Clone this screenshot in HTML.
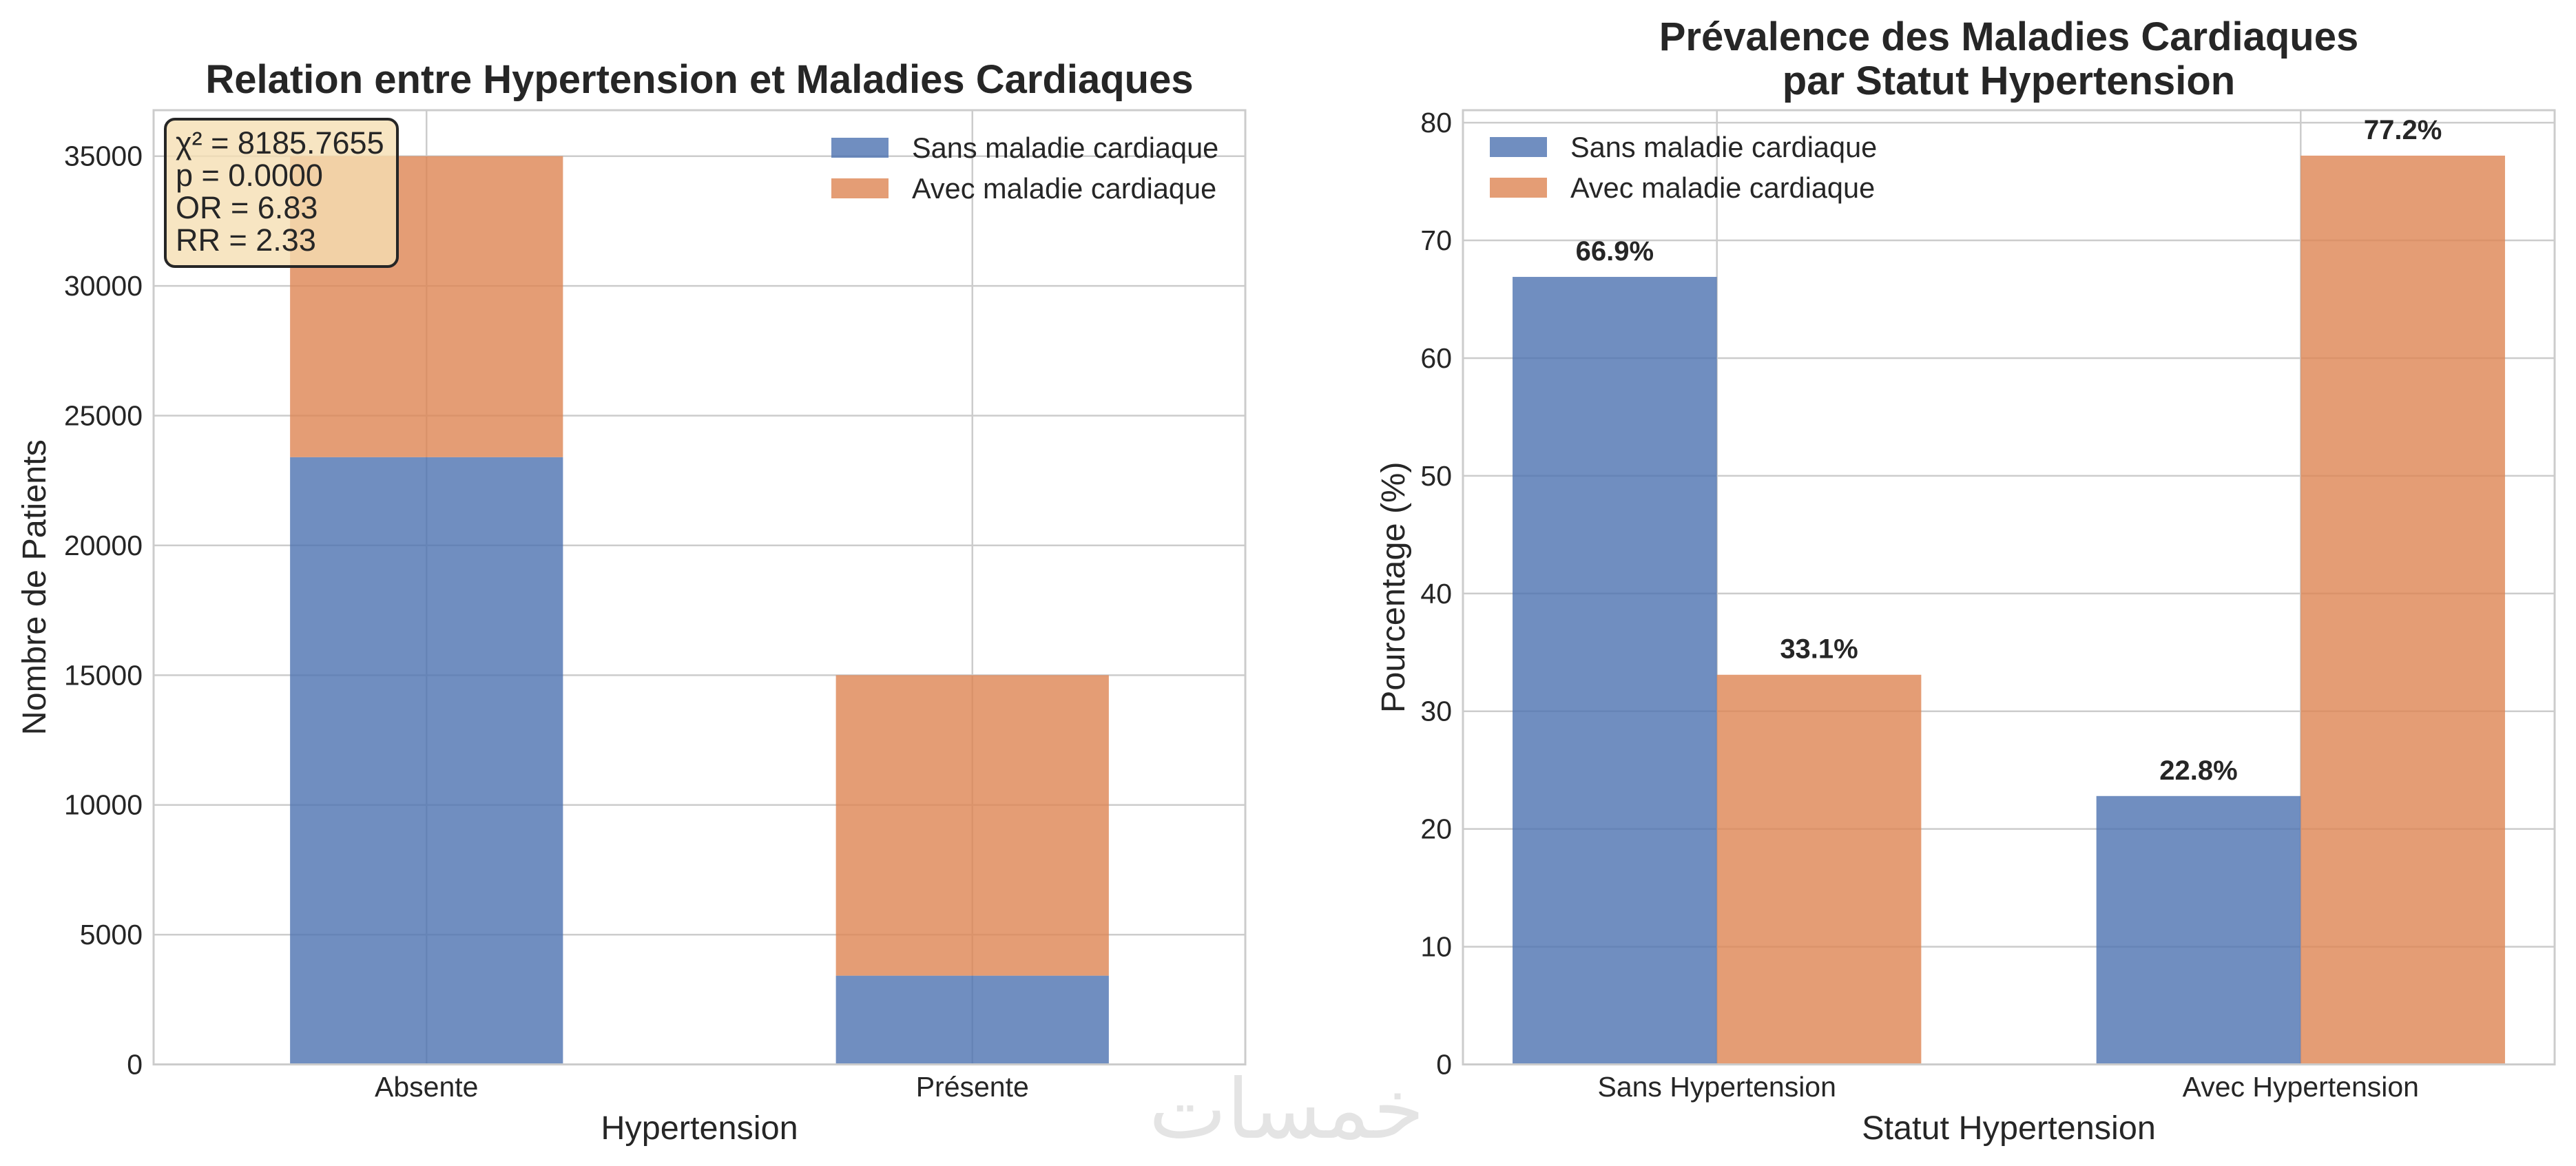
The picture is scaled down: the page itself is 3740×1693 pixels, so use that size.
<!DOCTYPE html>
<html><head><meta charset="utf-8"><style>
html,body{margin:0;padding:0;background:#fff;}
svg{display:block;font-family:"Liberation Sans",Arial,sans-serif;}
</style></head><body>
<svg id="fig" width="3740" height="1693" viewBox="0 0 3740 1693" xmlns="http://www.w3.org/2000/svg">
<rect x="0" y="0" width="3740" height="1693" fill="#fff"/>
<g id="left"></g>
<g id="right"></g>
<text x="1868" y="1652" text-anchor="middle" font-family="'DejaVu Sans',sans-serif" font-size="120" fill="#e4e4e4">خمسات</text>
</svg>
<script>
// ---- left chart data ----
const leftCategories = ["Absente", "Présente"];
const leftSans = [23400, 3420];
const leftAvec = [11600, 11580];
const leftTicks = [0, 5000, 10000, 15000, 20000, 25000, 30000, 35000];
// ---- right chart data ----
const rightCategories = ["Sans Hypertension", "Avec Hypertension"];
const rightSans = [66.9, 22.8];
const rightAvec = [33.1, 77.2];
const rightTicks = [0, 10, 20, 30, 40, 50, 60, 70, 80];
const seriesNames = ["Sans maladie cardiaque", "Avec maladie cardiaque"];

const NS = "http://www.w3.org/2000/svg";
const BLUE = "#4c72b0", ORANGE = "#dd8452", GRID = "#cccccc", TXT = "#262626";
function el(parent, tag, attrs, text) {
  const e = document.createElementNS(NS, tag);
  for (const k in attrs) e.setAttribute(k, attrs[k]);
  if (text !== undefined) e.textContent = text;
  parent.appendChild(e);
  return e;
}

function drawAxesFrame(g, L, R, T, B, xTicksPx, yTicks, yFn) {
  yTicks.forEach(t => {
    const y = yFn(t);
    const gl = el(g, "line", {x1: L, x2: R, y1: y, y2: y, stroke: GRID, "stroke-width": 2.5});
    
    
    const tl = el(g, "text", {x: L - 16, y: y + 14, "text-anchor": "end", "font-size": 41, fill: TXT}, String(t));
    
    
  });
  xTicksPx.forEach(x => {
    const gl = el(g, "line", {x1: x, x2: x, y1: T, y2: B, stroke: GRID, "stroke-width": 2.5});
    
    
  });
}
function drawSpines(g, L, R, T, B) {
  const r = el(g, "rect", {x: L, y: T, width: R - L, height: B - T, fill: "none", stroke: GRID, "stroke-width": 3});
  
  
}
function drawLegend(g, px, tx, y0) {
  [BLUE, ORANGE].forEach((c, i) => {
    const y = y0 + i * 59;
    const p = el(g, "rect", {x: px, y: y, width: 83, height: 29, fill: c, "fill-opacity": 0.8});
    
    
    const t = el(g, "text", {x: tx, y: y + 29, "font-size": 41.5, fill: TXT}, seriesNames[i]);
    
    
  });
}

// ---- LEFT ----
(function(){
  const g = document.getElementById("left");
  const L = 223, R = 1808, T = 160, B = 1545.5;
  const yMax = 36771, xMin = -0.5, xMax = 1.5;
  const y = v => B - v / yMax * (B - T);
  const x = v => L + (v - xMin) / (xMax - xMin) * (R - L);
  const bw = 0.5;
  drawAxesFrame(g, L, R, T, B, leftCategories.map((c, i) => x(i)), leftTicks, y);
  leftCategories.forEach((c, i) => {
    const x0 = x(i - bw / 2), w = x(i + bw / 2) - x0;
    const b1 = el(g, "rect", {x: x0, y: y(leftSans[i]), width: w, height: B - y(leftSans[i]), fill: BLUE, "fill-opacity": 0.8});
    
    
    const top = leftSans[i] + leftAvec[i];
    const b2 = el(g, "rect", {x: x0, y: y(top), width: w, height: y(leftSans[i]) - y(top), fill: ORANGE, "fill-opacity": 0.8});
    
    
    const tl = el(g, "text", {x: x(i), y: 1592, "text-anchor": "middle", "font-size": 41, fill: TXT}, c);
    
    
  });
  drawSpines(g, L, R, T, B);
  const t = el(g, "text", {x: (L + R) / 2, y: 135, "text-anchor": "middle", "font-size": 58, "font-weight": "bold", fill: TXT}, "Relation entre Hypertension et Maladies Cardiaques");
  
  
  const xl = el(g, "text", {x: (L + R) / 2, y: 1654, "text-anchor": "middle", "font-size": 48.6, fill: TXT}, "Hypertension");
  
  
  const yl = el(g, "text", {x: 0, y: 0, transform: "translate(66," + (T + B) / 2 + ") rotate(-90)", "text-anchor": "middle", "font-size": 48.6, fill: TXT}, "Nombre de Patients");
  
  
  drawLegend(g, 1207, 1324, 200);
  // stats box
  const box = el(g, "rect", {x: 240, y: 173, width: 337, height: 214, rx: 14, fill: "#f5deb3", "fill-opacity": 0.8, stroke: "#262626", "stroke-width": 4});
  
  
  ["χ² = 8185.7655", "p = 0.0000", "OR = 6.83", "RR = 2.33"].forEach((s, i) => {
    const st = el(g, "text", {x: 255, y: 223 + i * 47, "font-size": 45, fill: TXT}, s);
    
    
  });
})();

// ---- RIGHT ----
(function(){
  const g = document.getElementById("right");
  const L = 2124, R = 3709, T = 160, B = 1545.5;
  const yMax = 81.06, xMin = -0.435, xMax = 1.435;
  const y = v => B - v / yMax * (B - T);
  const x = v => L + (v - xMin) / (xMax - xMin) * (R - L);
  const bw = 0.35;
  drawAxesFrame(g, L, R, T, B, rightCategories.map((c, i) => x(i)), rightTicks, y);
  rightCategories.forEach((c, i) => {
    [[rightSans, BLUE, -1, 'sans'], [rightAvec, ORANGE, 0, 'avec']].forEach(([arr, col, off, nm]) => {
      const x0 = x(i + off * bw), w = x(i + off * bw + bw) - x0;
      const b = el(g, "rect", {x: x0, y: y(arr[i]), width: w, height: B - y(arr[i]), fill: col, "fill-opacity": 0.8});
      
      
      const lb = el(g, "text", {x: x0 + w / 2, y: y(arr[i]) - 24, "text-anchor": "middle", "font-size": 40, "font-weight": "bold", fill: TXT}, arr[i].toFixed(1) + "%");
      
      
    });
    const tl = el(g, "text", {x: x(i), y: 1592, "text-anchor": "middle", "font-size": 41, fill: TXT}, c);
    
    
  });
  drawSpines(g, L, R, T, B);
  const t1 = el(g, "text", {x: (L + R) / 2, y: 73, "text-anchor": "middle", "font-size": 58, "font-weight": "bold", fill: TXT}, "Prévalence des Maladies Cardiaques");
  
  
  const t2 = el(g, "text", {x: (L + R) / 2, y: 137, "text-anchor": "middle", "font-size": 58, "font-weight": "bold", fill: TXT}, "par Statut Hypertension");
  
  
  const xl = el(g, "text", {x: (L + R) / 2, y: 1654, "text-anchor": "middle", "font-size": 48.6, fill: TXT}, "Statut Hypertension");
  
  
  const yl = el(g, "text", {x: 0, y: 0, transform: "translate(2039," + (T + B) / 2 + ") rotate(-90)", "text-anchor": "middle", "font-size": 48.6, fill: TXT}, "Pourcentage (%)");
  
  
  drawLegend(g, 2163, 2280, 199);
})();
</script>
</body></html>
